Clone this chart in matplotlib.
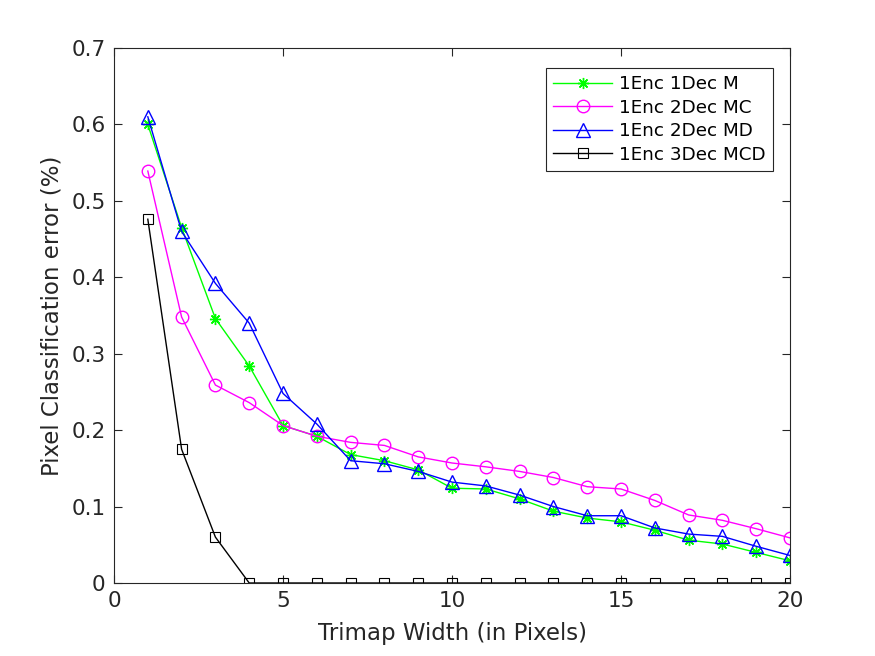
import matplotlib.pyplot as plt
import numpy as np

trimap_width = np.arange(1, 21)

err_m = [0.600, 0.465, 0.346, 0.284, 0.206, 0.192, 0.168, 0.160, 0.148, 0.124,
         0.123, 0.110, 0.094, 0.085, 0.080, 0.069, 0.056, 0.051, 0.040, 0.029]
err_mc = [0.539, 0.348, 0.259, 0.236, 0.206, 0.192, 0.184, 0.180, 0.165, 0.157,
          0.152, 0.146, 0.138, 0.126, 0.123, 0.108, 0.089, 0.082, 0.071, 0.059]
err_md = [0.610, 0.460, 0.392, 0.340, 0.248, 0.208, 0.160, 0.156, 0.146, 0.132,
          0.127, 0.115, 0.100, 0.088, 0.088, 0.072, 0.064, 0.061, 0.048, 0.036]
err_mcd = [0.476, 0.175, 0.060, 0, 0, 0, 0, 0, 0, 0,
           0, 0, 0, 0, 0, 0, 0, 0, 0, 0]

labels = ['1Enc 1Dec M', '1Enc 2Dec MC', '1Enc 2Dec MD', '1Enc 3Dec MCD']

plt.rcParams['font.family'] = ['DejaVu Sans']

fig = plt.figure(figsize=(8.75, 6.56), dpi=100)
ax = fig.add_axes([0.1303, 0.1113, 0.7726, 0.8155])

ax.plot(trimap_width, err_m, color='#00ff00', lw=1, marker=(8, 2, 0), ms=8,
        mew=1, label=labels[0])
ax.plot(trimap_width, err_mc, color='#ff00ff', lw=1, marker='o', ms=9,
        mfc='none', mew=1, label=labels[1])
ax.plot(trimap_width, err_md, color='#0000ff', lw=1, marker='^', ms=10,
        mfc='none', mew=1, label=labels[2])
ax.plot(trimap_width, err_mcd, color='black', lw=1, marker='s', ms=7,
        mfc='none', mew=0.8, label=labels[3])

ax.set_xlim(0, 20)
ax.set_ylim(0, 0.7)
ax.set_xticks([0, 5, 10, 15, 20])
ax.set_yticks(np.arange(0, 0.71, 0.1))
ax.set_yticklabels(['0', '0.1', '0.2', '0.3', '0.4', '0.5', '0.6', '0.7'])
ax.tick_params(direction='in', top=True, right=True, labelsize=15.5,
               colors='#262626', length=6, width=0.8, pad=6)
for sp in ax.spines.values():
    sp.set_linewidth(0.8)
    sp.set_color('#262626')

ax.set_xlabel('Trimap Width (in Pixels)', fontsize=16.5, color='#262626',
              labelpad=8)
ax.set_ylabel('Pixel Classification error (%)', fontsize=16.5, color='#262626',
              labelpad=6)

leg = ax.legend(loc='upper right', bbox_to_anchor=(0.975, 0.963), fontsize=13.2,
                fancybox=False, edgecolor='#262626', framealpha=1,
                handlelength=3.2, borderpad=0.4, labelspacing=0.3,
                handletextpad=0.4, borderaxespad=0)
leg.get_frame().set_linewidth(0.8)

fig.savefig('out.png', dpi=100)
